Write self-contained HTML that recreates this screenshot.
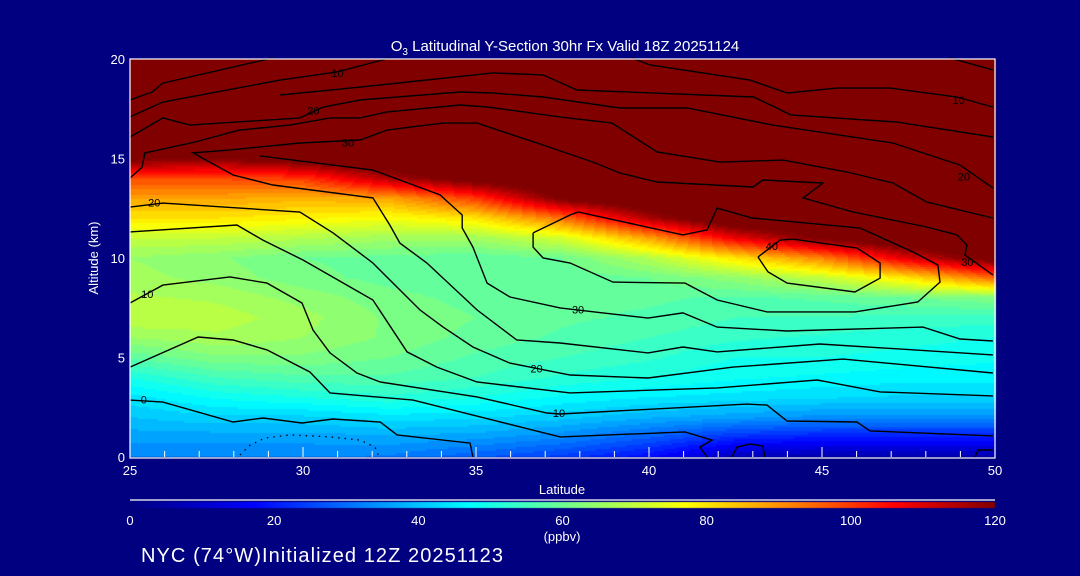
<!DOCTYPE html>
<html><head><meta charset="utf-8">
<style>
html,body{margin:0;padding:0;background:#000080;}
#wrap{position:relative;width:1080px;height:576px;background:#000080;overflow:hidden;font-family:"Liberation Sans",sans-serif;color:#fff;}
canvas{position:absolute;left:0;top:0;}
svg{position:absolute;left:0;top:0;}
</style></head>
<body>
<div id="wrap">
<canvas id="heat" width="1080" height="576"></canvas>
<svg id="svg" width="1080" height="576"></svg>
</div>
<script>
// ---- data ----
const lats = [25,27.5,30,32.5,35,37.5,40,42.5,45,47.5,50];
const alts = [0,1,2,3,4,5,6,7,8,9,10,11,12,13,14,15,16,17,18,19,20];
const ozone = [
 [33,33,33,32,28,24,18,8,6,6,6],
 [36,36,36,37,36,33,28,22,20,20,20],
 [40,42,42,44,43,41,38,36,34,34,34],
 [44,48,50,52,50,47,45,44,43,42,42],
 [50,55,57,57,55,52,50,48,47,46,46],
 [58,62,62,60,57,55,53,50,50,49,48],
 [65,67,65,62,59,57,55,53,52,51,50],
 [70,69,66,62,60,58,57,55,55,54,54],
 [68,67,64,61,59,58,58,57,58,60,62],
 [66,64,61,59,58,58,60,64,70,80,95],
 [65,63,60,59,58,60,68,80,92,110,125],
 [70,70,68,66,66,72,88,108,122,130,130],
 [80,80,78,76,80,94,115,130,130,130,130],
 [88,88,86,88,100,122,130,130,130,130,130],
 [98,98,100,115,125,130,130,130,130,130,130],
 [122,120,125,130,130,130,130,130,130,130,130],
 [130,130,130,130,130,130,130,130,130,130,130],
 [130,130,130,130,130,130,130,130,130,130,130],
 [130,130,130,130,130,130,130,130,130,130,130],
 [130,130,130,130,130,130,130,130,130,130,130],
 [130,130,130,130,130,130,130,130,130,130,130]
];
const xTicks = [25,30,35,40,45,50];
const yTicks = [0,5,10,15,20];
const cbTicks = [0,20,40,60,80,100,120];
const contours = [
 [[25,17.94],[25.64,18.34],[25.95,18.79],[29.13,20.05]],
 [[25,17.09],[25.95,17.84],[29.34,18.94],[30.98,19.35],[32.51,20.05]],
 [[25,16.08],[25.95,17.04],[26.73,16.68],[29.91,17.04],[30.58,17.59],[31.65,17.94],[34.54,18.34],[35.49,18.29],[36.94,18.09],[39.16,17.54],[41.10,17.54],[43.58,16.68],[47.05,15.78],[48.99,14.67],[49.94,13.52]],
 [[29.34,18.19],[31.65,18.59],[35.49,19.30],[36.94,19.20],[37.92,18.44],[43.03,18.09],[44.10,17.19],[47.17,16.83],[49.94,16.08]],
 [[39.51,20.05],[40.03,19.70],[42.92,18.94],[43.99,18.29],[45.43,18.54],[46.97,18.54],[48.90,18.09],[49.94,17.59]],
 [[48.70,20.05],[49.94,19.45]],
 [[25,14.02],[25.35,14.57],[25.43,15.28],[26.88,15.83],[28.18,16.43],[29.62,16.68],[30.78,17.04],[31.65,17.04],[32.43,17.34],[34.54,17.69],[35.32,17.59],[37.43,17.09],[38.93,16.78],[40.23,15.33],[42.05,14.82],[43.87,14.92],[45.72,14.32],[47.05,13.77],[48.03,12.81],[49.94,12.01]],
 [[49.94,5.13],[44.94,5.68],[41.97,5.28],[40.98,5.53],[39.97,5.23],[37.43,5.73],[36.18,5.88],[35.03,7.39],[33.58,9.75],[32.80,10.75],[32.51,11.66],[32.02,13.02],[29.13,13.67],[27.98,14.17],[26.82,15.28],[27.89,15.43],[29.91,15.78],[31.65,15.93],[32.43,16.43],[34.05,16.78],[35.03,16.78],[36.94,15.68],[38.38,14.82],[39.16,14.27],[40.23,13.82],[43.01,13.57],[43.29,13.92],[45.03,13.77],[44.45,13.02],[45.90,12.31],[48.03,11.56],[48.90,11.16],[49.19,10.65],[49.13,10.15],[49.94,9.15]],
 [[28.76,15.13],[32.02,14.42],[33.96,13.17],[34.60,12.16],[34.60,11.51],[34.91,10.55],[35.32,8.74],[35.98,8.04],[37.43,7.49],[38.67,7.24],[39.97,6.98],[40.98,7.24],[41.97,6.53],[43.99,6.33],[47.92,6.53],[48.99,5.93],[49.94,5.83]],
 [[36.65,11.26],[37.72,12.16],[37.95,12.31],[40.98,11.16],[41.68,11.41],[41.97,12.51],[42.98,12.01],[46.10,11.51],[47.63,10.30],[48.35,9.65],[48.41,8.79],[47.77,7.79],[45.95,7.29],[43.41,7.29],[41.97,7.89],[41.04,8.74],[38.96,8.79],[37.72,9.75],[36.94,10.00],[36.65,10.55],[36.65,11.26]],
 [[43.15,10.05],[43.79,10.90],[44.16,10.95],[46.01,10.50],[46.68,9.75],[46.68,8.99],[45.95,8.29],[43.99,8.74],[43.44,9.30],[43.15,10.05]],
 [[25,12.56],[25.95,12.76],[29.91,12.31],[30.87,11.26],[32.02,9.75],[33.38,7.39],[34.05,6.53],[34.91,5.53],[35.98,4.72],[37.72,4.12],[39.97,3.97],[42.43,4.52],[45.61,4.92],[49.94,4.22]],
 [[25,11.31],[28.09,11.66],[28.84,10.90],[30.0,9.90],[32.02,7.89],[33.01,5.28],[33.87,4.52],[35.03,3.77],[37.72,3.22],[41.97,3.47],[44.86,3.87],[46.68,3.27],[49.94,3.07]],
 [[25,7.74],[25.95,8.64],[27.89,9.05],[28.96,8.74],[29.97,7.74],[30.29,6.38],[30.78,5.23],[31.56,4.22],[32.23,3.77],[35.03,3.02],[37.05,2.21],[37.43,2.16],[42.83,2.66],[43.41,2.61],[43.99,1.81],[46.01,1.76],[46.39,1.31],[49.94,1.06]],
 [[25,4.52],[26.97,6.03],[27.98,5.88],[28.96,5.38],[30.20,4.27],[30.78,3.22],[33.18,2.86],[37.43,1.01],[41.04,1.26],[41.82,0.85],[41.47,0.50],[41.68,0.0]],
 [[25,2.86],[25.95,2.76],[27.98,1.76],[28.84,1.96],[29.97,1.71],[30.87,1.91],[32.23,1.76],[32.72,1.11],[34.83,0.70],[34.91,0.0]],
 [[42.40,0],[42.54,0.50],[42.92,0.65],[43.29,0.55],[43.35,0]],
 [[49.42,0],[49.51,0.35],[49.94,0.35]]
];
const dotted = [[28.18,0.10],[28.47,0.60],[28.90,0.95],[29.62,1.11],[30.78,1.01],[31.65,0.85],[32.08,0.50],[32.17,0.10]];
const labelText = ['10','20','30','20','10','20','20','30','10','10','0','40','30'];
const labelLat  = [31.0,30.3,31.3,25.7,48.95,49.1,36.75,37.95,25.5,37.4,25.4,43.55,49.2];
const labelAlt  = [19.3,17.4,15.8,12.8,17.95,14.1,4.45,7.4,8.2,2.2,2.9,10.6,9.8];

// ---- axes ----
const X0=130,X1=995,Y0=457,Y1=59;
function xs(lat){return X0+(lat-25)/(50-25)*(X1-X0);}
function ys(a){return Y0-a/20*(Y0-Y1);}
const stops=[[0,[0,0,128]],[17,[0,0,255]],[47,[0,255,255]],[62,[128,255,128]],[77,[255,255,0]],[92,[255,128,0]],[106,[255,0,0]],[120,[128,0,0]]];
function col(v){
 if(v<=0)return stops[0][1]; if(v>=120)return stops[stops.length-1][1];
 for(let i=1;i<stops.length;i++){ if(v<=stops[i][0]){const a=stops[i-1],b=stops[i];const t=(v-a[0])/(b[0]-a[0]);
   return [0,1,2].map(k=>Math.round(a[1][k]+(b[1][k]-a[1][k])*t));}}
}
function val(lat,alt){
 let fi=(lat-25)/2.5, fj=alt;
 let i=Math.min(Math.floor(fi),lats.length-2), j=Math.min(Math.floor(fj),alts.length-2);
 i=Math.max(i,0); j=Math.max(j,0);
 const ti=fi-i, tj=fj-j;
 const v00=ozone[j][i],v10=ozone[j][i+1],v01=ozone[j+1][i],v11=ozone[j+1][i+1];
 return (v00*(1-ti)+v10*ti)*(1-tj)+(v01*(1-ti)+v11*ti)*tj;
}
const cv=document.getElementById('heat'),ctx=cv.getContext('2d');
const step=2;
for(let px=X0;px<X1;px+=step){
 for(let py=Y1;py<Y0;py+=step){
  const lat=25+(px+step/2-X0)/(X1-X0)*25, alt=(Y0-(py+step/2))/(Y0-Y1)*20;
  let v=val(lat,alt); v=Math.floor(v/2.5)*2.5+1.25;
  const c=col(v); ctx.fillStyle='rgb('+c[0]+','+c[1]+','+c[2]+')';
  ctx.fillRect(px,py,step,step);
 }
}
for(let px=X0;px<X1;px++){
 const c=col((px-X0)/(X1-X0)*120); ctx.fillStyle='rgb('+c[0]+','+c[1]+','+c[2]+')'; ctx.fillRect(px,502,1,6);
}
const NS='http://www.w3.org/2000/svg';
const svg=document.getElementById('svg');
function mk(tag,attrs,parent){const e=document.createElementNS(NS,tag);for(const k in attrs)e.setAttribute(k,attrs[k]);(parent||svg).appendChild(e);return e;}
contours.forEach((c,idx)=>{
 const p=mk('polyline',{points:c.map(q=>xs(q[0]).toFixed(1)+','+ys(q[1]).toFixed(1)).join(' '),fill:'none',stroke:'#000','stroke-width':1.4});
 
 
});
const dl=mk('polyline',{points:dotted.map(q=>xs(q[0]).toFixed(1)+','+ys(q[1]).toFixed(1)).join(' '),fill:'none',stroke:'#000','stroke-width':1.3,'stroke-dasharray':'1.5 5'});


labelText.forEach((t,i)=>{
 const e=mk('text',{x:xs(labelLat[i]),y:ys(labelAlt[i])+4,'font-size':11,'text-anchor':'middle',fill:'#000'});
 e.textContent=t;
 
 
});
const fr=mk('rect',{x:X0,y:Y1,width:X1-X0,height:Y0-Y1+1,fill:'none',stroke:'#fff','stroke-width':1.2});


for(let l=26;l<50;l++){
 const t=mk('line',{x1:xs(l),x2:xs(l),y1:Y0,y2:Y0-6,stroke:'#fff','stroke-width':1});
 
 
}
xTicks.forEach(v=>{
 const t=mk('line',{x1:xs(v),x2:xs(v),y1:Y0,y2:Y0-10,stroke:'#fff','stroke-width':1});
 
 
 const e=mk('text',{x:xs(v),y:475,'font-size':13,'text-anchor':'middle',fill:'#fff'});
 e.textContent=v;
 
 
});
yTicks.forEach(v=>{
 const e=mk('text',{x:125,y:ys(v)+5,'font-size':13,'text-anchor':'end',fill:'#fff'});
 e.textContent=v;
 
 
});
cbTicks.forEach(v=>{
 const e=mk('text',{x:X0+v/120*(X1-X0),y:525,'font-size':13,'text-anchor':'middle',fill:'#fff'});
 e.textContent=v;
 
 
});
const cbl=mk('line',{x1:X0,x2:X1,y1:500,y2:500,stroke:'#fff','stroke-width':1.2});


</script>
<svg width="1080" height="576" style="position:absolute;left:0;top:0;pointer-events:none">
<text x="565" y="51" font-size="15" text-anchor="middle" fill="#fff" font-family="Liberation Sans, sans-serif">O<tspan font-size="10" dy="4">3</tspan><tspan dy="-4"> Latitudinal Y-Section 30hr  Fx Valid 18Z 20251124</tspan></text>
<text x="562" y="494" font-size="13" text-anchor="middle" fill="#fff" font-family="Liberation Sans, sans-serif">Latitude</text>
<text x="98" y="258" font-size="13" text-anchor="middle" fill="#fff" font-family="Liberation Sans, sans-serif" transform="rotate(-90 98 258)">Altitude (km)</text>
<text x="562" y="541" font-size="13" text-anchor="middle" fill="#fff" font-family="Liberation Sans, sans-serif">(ppbv)</text>
<text x="141" y="562" font-size="20" fill="#fff" font-family="Liberation Sans, sans-serif" textLength="362">NYC (74°W)Initialized 12Z 20251123</text>
</svg>
</body></html>
